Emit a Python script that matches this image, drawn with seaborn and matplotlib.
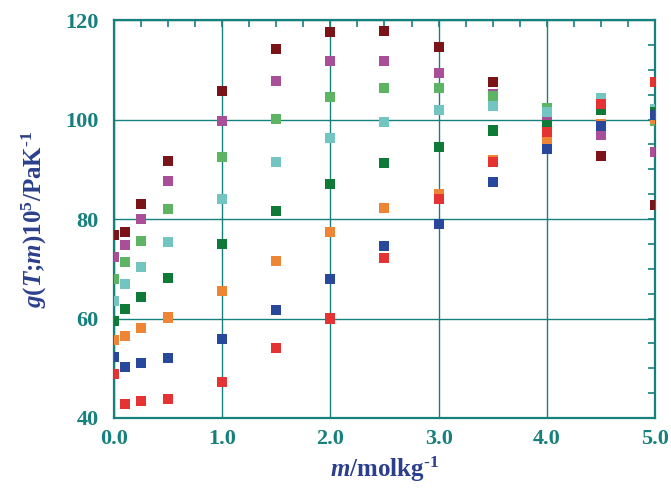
import matplotlib
matplotlib.use("Agg")
import matplotlib.pyplot as plt
import matplotlib.ticker as mticker
import numpy as np
import pandas as pd
import seaborn as sns

# molality values (mol/kg)
molality = [0.0, 0.1, 0.25, 0.5, 1.0, 1.5, 2.0, 2.5, 3.0, 3.5, 4.0, 4.5, 5.0]

# g(T;m) x 10^5 / Pa K^-1, one list per temperature series
g_s1 = [76.8, 77.3, 83.0, 91.6, 105.7, 114.1, 117.7, 117.8, 114.5, 107.6, 101.0, 92.7, 82.8]
g_s2 = [72.4, 74.8, 80.0, 87.6, 99.7, 107.7, 111.7, 111.8, 109.3, 105.1, 100.4, 96.8, 93.4]
g_s3 = [67.9, 71.3, 75.6, 82.1, 92.4, 100.2, 104.5, 106.3, 106.4, 104.7, 102.4, 103.5, 99.7]
g_s4 = [63.5, 66.9, 70.4, 75.4, 84.0, 91.4, 96.3, 99.6, 102.0, 102.65, 101.6, 104.3, 102.1]
g_s5 = [59.4, 62.0, 64.3, 68.1, 75.0, 81.7, 87.0, 91.3, 94.4, 97.8, 99.0, 101.9, 101.6]
g_s6 = [55.6, 56.5, 58.0, 60.2, 65.5, 71.5, 77.3, 82.3, 85.0, 91.9, 95.5, 99.2, 100.2]
g_s7 = [52.2, 50.3, 51.1, 52.0, 55.9, 61.8, 67.9, 74.5, 79.0, 87.5, 94.0, 98.8, 101.0]
g_s8 = [48.9, 42.75, 43.5, 43.9, 47.3, 54.1, 60.0, 72.1, 84.0, 91.5, 97.55, 103.1, 107.5]

series_names = ["s1", "s2", "s3", "s4", "s5", "s6", "s7", "s8"]
series_values = [g_s1, g_s2, g_s3, g_s4, g_s5, g_s6, g_s7, g_s8]
series_colors = ["#7b1419", "#a84f98", "#5db563", "#72c5c1",
                 "#0f7a37", "#ee8534", "#28499b", "#e53333"]

x_ticks = [0.0, 1.0, 2.0, 3.0, 4.0, 5.0]
x_ticklabels = ["0.0", "1.0", "2.0", "3.0", "4.0", "5.0"]
y_ticks = [40, 60, 80, 100, 120]
y_ticklabels = ["40", "60", "80", "100", "120"]

frames = [pd.DataFrame({"m": molality, "g": vals, "series": name})
          for name, vals in zip(series_names, series_values)]
df = pd.concat(frames, ignore_index=True)

sns.set_style("white")
plt.rcParams["mathtext.fontset"] = "custom"
plt.rcParams["mathtext.rm"] = "Liberation Serif:bold"
plt.rcParams["mathtext.it"] = "Liberation Serif:italic:bold"
plt.rcParams["mathtext.bf"] = "Liberation Serif:bold"

teal = "#16807c"
navy = "#2b3f8c"

fig = plt.figure(figsize=(6.71, 4.90), dpi=100)
ax = fig.add_axes([0.170, 0.147, 0.806, 0.812])

sns.scatterplot(data=df, x="m", y="g", hue="series", hue_order=series_names,
                palette=series_colors, marker="s", s=52, linewidth=0,
                legend=False, ax=ax, zorder=3)

ax.set_xlim(0, 5)
ax.set_ylim(40, 120)
ax.set_xticks(x_ticks)
ax.set_xticklabels(x_ticklabels)
ax.set_yticks(y_ticks)
ax.set_yticklabels(y_ticklabels)
ax.xaxis.set_minor_locator(mticker.MultipleLocator(0.25))
ax.yaxis.set_minor_locator(mticker.MultipleLocator(5))

ax.grid(True, which="major", color=teal, linewidth=1.0, zorder=1)
ax.set_axisbelow(True)

for sp in ax.spines.values():
    sp.set_color(teal)
    sp.set_linewidth(1.6)
    sp.set_visible(True)

ax.tick_params(which="both", direction="in", top=True, right=True,
               color=teal, width=1.2)
ax.tick_params(which="major", length=5)
ax.tick_params(which="minor", length=5)
ax.tick_params(axis="y", which="major", pad=11)
ax.tick_params(axis="x", which="major", pad=8)

for lbl in ax.get_xticklabels() + ax.get_yticklabels():
    lbl.set_fontfamily("Liberation Serif")
    lbl.set_fontweight("bold")
    lbl.set_fontsize(16)
    lbl.set_color(teal)

ax.set_xlabel(r"$m$/molkg$^{\text{-1}}$", fontsize=18,
              fontfamily="Liberation Serif", fontweight="bold",
              color=navy, labelpad=4)
ax.set_ylabel(r"$g$($T$;$m$)10$^{\text{5}}$/PaK$^{\text{-1}}$",
              fontsize=18, fontfamily="Liberation Serif", fontweight="bold",
              color=navy, labelpad=12)

fig.savefig("out.png", dpi=100)
